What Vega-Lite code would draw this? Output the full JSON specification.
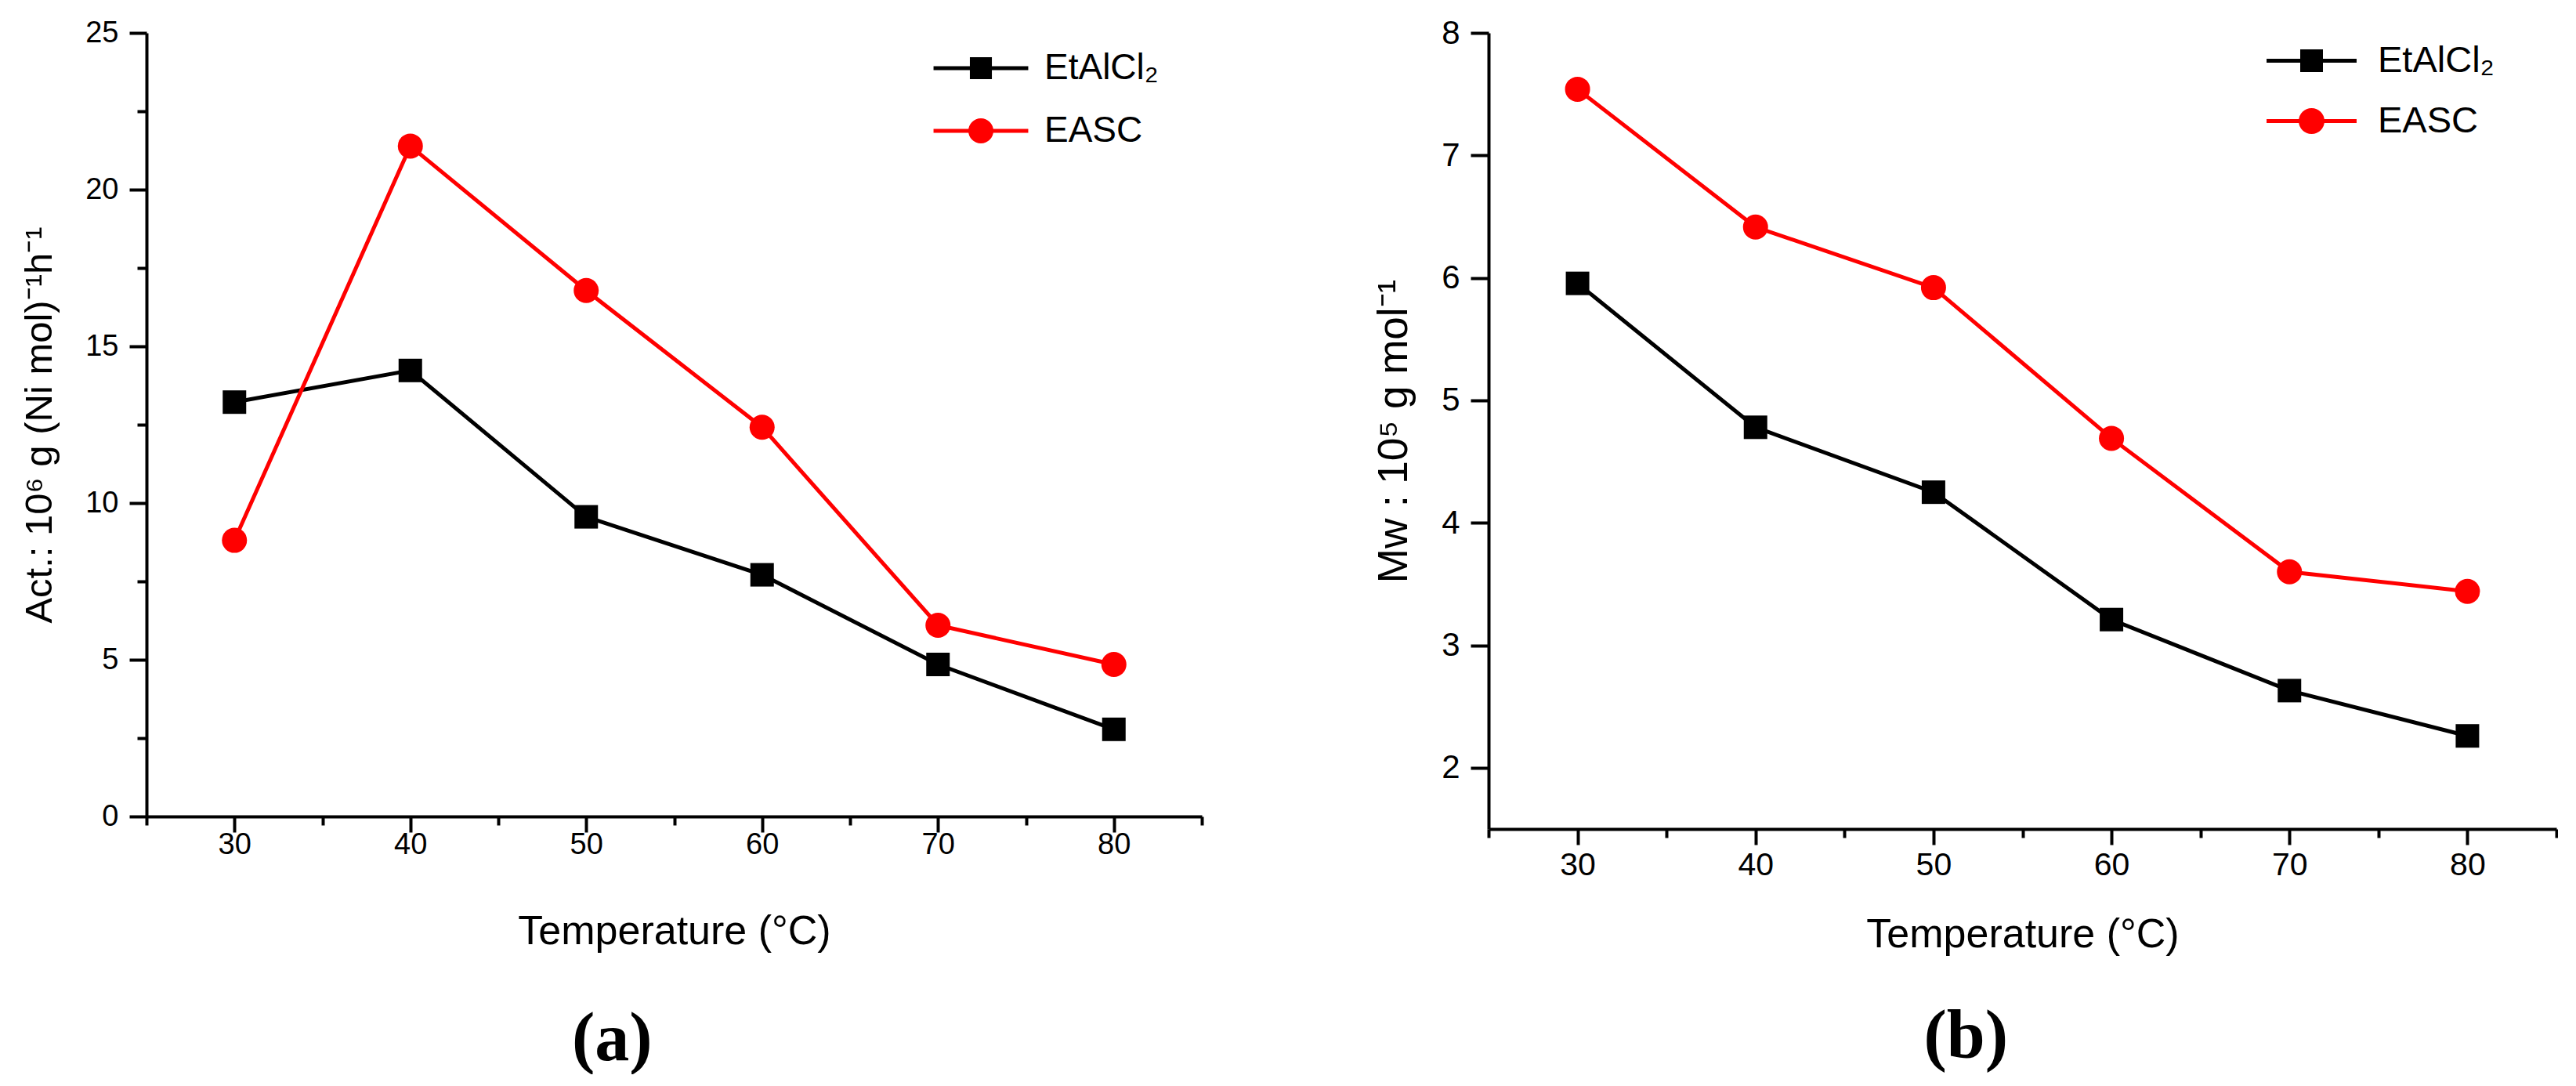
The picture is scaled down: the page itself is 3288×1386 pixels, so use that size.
{
  "$schema": "https://vega.github.io/schema/vega-lite/v6.json",
  "background": "white",
  "padding": {"left": 26, "top": 21, "right": 0, "bottom": 0},
  "spacing": 217,
  "config": {
    "view": {"stroke": null},
    "axis": {
      "domainColor": "black", "domainWidth": 4, "tickColor": "black", "tickWidth": 4,
      "labelColor": "black", "titleColor": "black", "labelFont": "Liberation Sans",
      "titleFont": "Liberation Sans", "titleFontWeight": "normal", "grid": false,
      "labelOverlap": false, "labelFlush": false
    },
    "legend": {"labelFont": "Liberation Sans", "labelColor": "black"}
  },
  "hconcat": [
    {
      "width": 1347, "height": 1000,
      "data": {"values": [
        {"T": 30, "series": "EtAlCl₂", "value": 13.22},
        {"T": 40, "series": "EtAlCl₂", "value": 14.23},
        {"T": 50, "series": "EtAlCl₂", "value": 9.56},
        {"T": 60, "series": "EtAlCl₂", "value": 7.71},
        {"T": 70, "series": "EtAlCl₂", "value": 4.85},
        {"T": 80, "series": "EtAlCl₂", "value": 2.78},
        {"T": 30, "series": "EASC", "value": 8.81},
        {"T": 40, "series": "EASC", "value": 21.39},
        {"T": 50, "series": "EASC", "value": 16.78},
        {"T": 60, "series": "EASC", "value": 12.42},
        {"T": 70, "series": "EASC", "value": 6.1},
        {"T": 80, "series": "EASC", "value": 4.85}
      ]},
      "title": {"text": "(a)", "orient": "bottom", "frame": "bounds", "anchor": "middle", "font": "Liberation Serif", "fontWeight": "bold", "fontSize": 88, "offset": 69, "color": "black"},
      "encoding": {
        "x": {"field": "T", "type": "quantitative", "scale": {"domain": [25, 85], "nice": false, "zero": false},
          "axis": {"values": [25, 30, 35, 40, 45, 50, 55, 60, 65, 70, 75, 80, 85], "format": "d",
            "tickSize": {"condition": {"test": "indexof([30,40,50,60,70,80], datum.value) >= 0", "value": 20}, "value": 11},
            "labelExpr": "indexof([30,40,50,60,70,80], datum.value) >= 0 ? datum.label : ''",
            "labelFontSize": 38, "labelPadding": -3, "title": "Temperature (°C)", "titleFontSize": 52, "titlePadding": 66}},
        "y": {"field": "value", "type": "quantitative", "scale": {"domain": [0, 25], "nice": false},
          "axis": {"values": [0, 2.5, 5, 7.5, 10, 12.5, 15, 17.5, 20, 22.5, 25], "format": "d",
            "tickSize": {"condition": {"test": "indexof([0,5,10,15,20,25], datum.value) >= 0", "value": 22}, "value": 12},
            "labelExpr": "indexof([0,5,10,15,20,25], datum.value) >= 0 ? datum.label : ''",
            "labelFontSize": 38, "labelPadding": 14, "title": "Act.: 10⁶ g (Ni mol)⁻¹h⁻¹", "titleFontSize": 49, "titlePadding": 33}}
      },
      "layer": [
        {"transform": [{"filter": "datum.series === 'EtAlCl₂'"}], "mark": {"type": "line", "strokeWidth": 5, "color": "#000000"}},
        {"transform": [{"filter": "datum.series === 'EASC'"}], "mark": {"type": "line", "strokeWidth": 5, "color": "#ff0000"}},
        {"transform": [{"filter": "datum.series === 'EtAlCl₂'"}], "mark": {"type": "point", "shape": "square", "filled": true, "size": 900, "opacity": 1, "color": "#000000"}},
        {"transform": [{"filter": "datum.series === 'EASC'"}], "mark": {"type": "point", "shape": "circle", "filled": true, "size": 1024, "opacity": 1, "color": "#ff0000"}},
        {"mark": {"type": "point", "filled": true, "opacity": 0},
          "encoding": {
            "shape": {"field": "series", "type": "nominal",
              "scale": {"domain": ["EtAlCl₂", "EASC"], "range": ["M-4.03,0H4.03M-0.77,-0.77H0.77V0.77H-0.77Z", "M-4.03,0H4.03M0.9,0A0.9,0.9,0,1,1,-0.9,0A0.9,0.9,0,1,1,0.9,0Z"]},
              "legend": {"title": null, "orient": "none", "legendX": 1042, "legendY": 22, "padding": 0,
                "symbolSize": 900, "symbolStrokeWidth": 5, "symbolOpacity": 1, "labelFontSize": 46, "labelOffset": 58, "rowPadding": 33}},
            "fill": {"field": "series", "type": "nominal", "scale": {"domain": ["EtAlCl₂", "EASC"], "range": ["#000000", "#ff0000"]}},
            "stroke": {"field": "series", "type": "nominal", "scale": {"domain": ["EtAlCl₂", "EASC"], "range": ["#000000", "#ff0000"]}}
          }}
      ]
    },
    {
      "width": 1363, "height": 1016,
      "data": {"values": [
        {"T": 30, "series": "EtAlCl₂", "value": 5.955},
        {"T": 40, "series": "EtAlCl₂", "value": 4.78},
        {"T": 50, "series": "EtAlCl₂", "value": 4.25},
        {"T": 60, "series": "EtAlCl₂", "value": 3.21},
        {"T": 70, "series": "EtAlCl₂", "value": 2.63},
        {"T": 80, "series": "EtAlCl₂", "value": 2.26},
        {"T": 30, "series": "EASC", "value": 7.54},
        {"T": 40, "series": "EASC", "value": 6.415},
        {"T": 50, "series": "EASC", "value": 5.92},
        {"T": 60, "series": "EASC", "value": 4.69},
        {"T": 70, "series": "EASC", "value": 3.6},
        {"T": 80, "series": "EASC", "value": 3.44}
      ]},
      "title": {"text": "(b)", "orient": "bottom", "frame": "bounds", "anchor": "middle", "font": "Liberation Serif", "fontWeight": "bold", "fontSize": 88, "offset": 62, "color": "black"},
      "encoding": {
        "x": {"field": "T", "type": "quantitative", "scale": {"domain": [25, 85], "nice": false, "zero": false},
          "axis": {"values": [25, 30, 35, 40, 45, 50, 55, 60, 65, 70, 75, 80, 85], "format": "d",
            "tickSize": {"condition": {"test": "indexof([30,40,50,60,70,80], datum.value) >= 0", "value": 20}, "value": 11},
            "labelExpr": "indexof([30,40,50,60,70,80], datum.value) >= 0 ? datum.label : ''",
            "labelFontSize": 41, "labelPadding": 6, "title": "Temperature (°C)", "titleFontSize": 52, "titlePadding": 43}},
        "y": {"field": "value", "type": "quantitative", "scale": {"domain": [1.5, 8], "nice": false, "zero": false},
          "axis": {"values": [2, 3, 4, 5, 6, 7, 8], "tickSize": 23,
            "labelFontSize": 42, "labelPadding": 14, "title": "Mw : 10⁵ g mol⁻¹", "titleFontSize": 53, "titlePadding": 33}}
      },
      "layer": [
        {"transform": [{"filter": "datum.series === 'EtAlCl₂'"}], "mark": {"type": "line", "strokeWidth": 5, "color": "#000000"}},
        {"transform": [{"filter": "datum.series === 'EASC'"}], "mark": {"type": "line", "strokeWidth": 5, "color": "#ff0000"}},
        {"transform": [{"filter": "datum.series === 'EtAlCl₂'"}], "mark": {"type": "point", "shape": "square", "filled": true, "size": 900, "opacity": 1, "color": "#000000"}},
        {"transform": [{"filter": "datum.series === 'EASC'"}], "mark": {"type": "point", "shape": "circle", "filled": true, "size": 1024, "opacity": 1, "color": "#ff0000"}},
        {"mark": {"type": "point", "filled": true, "opacity": 0},
          "encoding": {
            "shape": {"field": "series", "type": "nominal",
              "scale": {"domain": ["EtAlCl₂", "EASC"], "range": ["M-3.83,0H3.83M-0.8,-0.8H0.8V0.8H-0.8Z", "M-3.83,0H3.83M0.93,0A0.93,0.93,0,1,1,-0.93,0A0.93,0.93,0,1,1,0.93,0Z"]},
              "legend": {"title": null, "orient": "none", "legendX": 1027, "legendY": 12, "padding": 0,
                "symbolSize": 900, "symbolStrokeWidth": 5, "symbolOpacity": 1, "labelFontSize": 47, "labelOffset": 61, "rowPadding": 29}},
            "fill": {"field": "series", "type": "nominal", "scale": {"domain": ["EtAlCl₂", "EASC"], "range": ["#000000", "#ff0000"]}},
            "stroke": {"field": "series", "type": "nominal", "scale": {"domain": ["EtAlCl₂", "EASC"], "range": ["#000000", "#ff0000"]}}
          }}
      ]
    }
  ],
  "resolve": {
    "scale": {"shape": "independent", "fill": "independent", "stroke": "independent"},
    "legend": {"shape": "independent", "fill": "independent", "stroke": "independent"}
  }
}
